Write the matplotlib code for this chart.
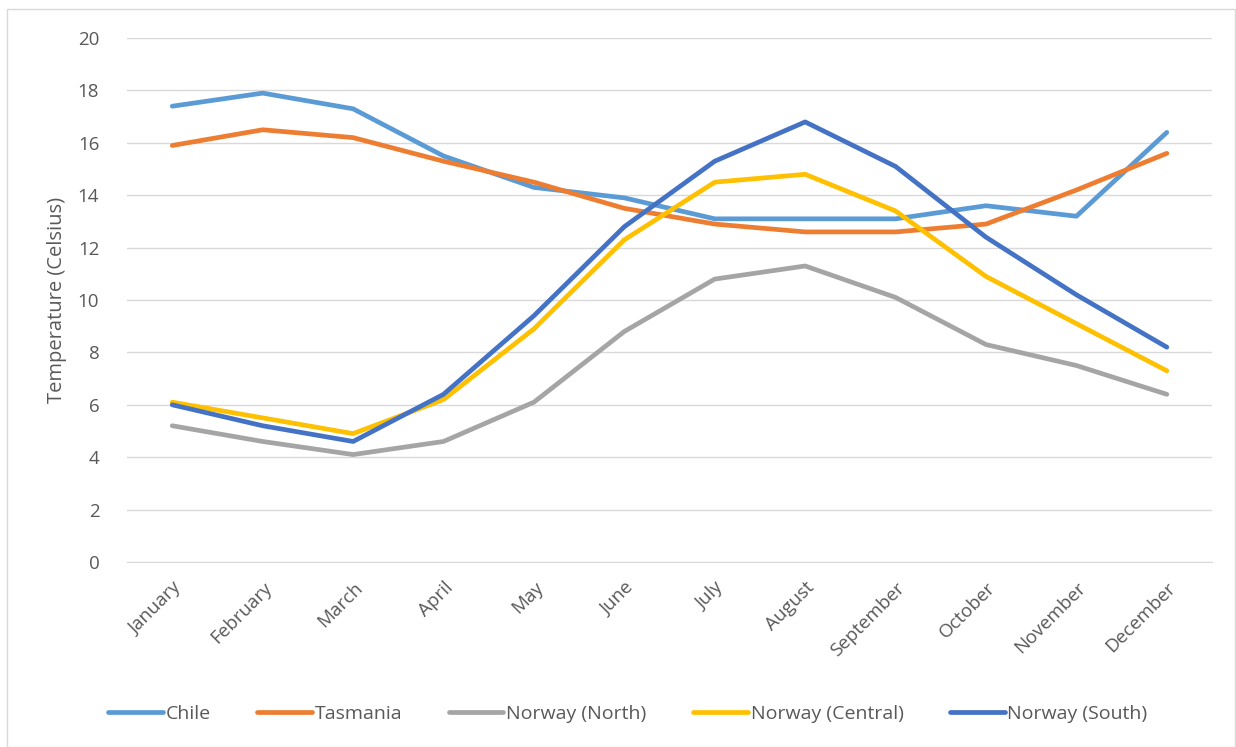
import matplotlib.pyplot as plt
from matplotlib.patches import Rectangle

months = ["January", "February", "March", "April", "May", "June",
          "July", "August", "September", "October", "November", "December"]

chile = [17.4, 17.9, 17.3, 15.5, 14.3, 13.9, 13.1, 13.1, 13.1, 13.6, 13.2, 16.4]
tasmania = [15.9, 16.5, 16.2, 15.3, 14.5, 13.5, 12.9, 12.6, 12.6, 12.9, 14.2, 15.6]
norway_north = [5.2, 4.6, 4.1, 4.6, 6.1, 8.8, 10.8, 11.3, 10.1, 8.3, 7.5, 6.4]
norway_central = [6.1, 5.5, 4.9, 6.2, 8.9, 12.3, 14.5, 14.8, 13.4, 10.9, 9.1, 7.3]
norway_south = [6.0, 5.2, 4.6, 6.4, 9.4, 12.8, 15.3, 16.8, 15.1, 12.4, 10.2, 8.2]

series = [
    ("Chile", chile, "#5B9BD5"),
    ("Tasmania", tasmania, "#ED7D31"),
    ("Norway (North)", norway_north, "#A5A5A5"),
    ("Norway (Central)", norway_central, "#FFC000"),
    ("Norway (South)", norway_south, "#4472C4"),
]

plt.rcParams['font.family'] = ['Open Sans', 'DejaVu Sans']
texto = '#595959'

fig = plt.figure(figsize=(12.36, 7.47), dpi=100)
fig.patches.append(Rectangle((0.006, 0.0), 0.993, 0.988, transform=fig.transFigure,
                             fill=False, edgecolor='#D9D9D9', linewidth=1))
ax = fig.add_axes([0.1028, 0.2477, 0.8778, 0.7013])

x = list(range(len(months)))
for nombre, valores, color in series:
    ax.plot(x, valores, color=color, linewidth=3.4, label=nombre,
            solid_capstyle='round', solid_joinstyle='round')

ax.set_xlim(-0.5, len(months) - 0.5)
ax.set_ylim(0, 20)
ax.set_yticks(range(0, 21, 2))
ax.set_xticks(x)
ax.set_xticklabels(months, rotation=45, ha='right', rotation_mode='anchor')
ax.tick_params(axis='both', length=0, labelsize=13.5, colors=texto)
ax.tick_params(axis='x', pad=12)
ax.tick_params(axis='y', pad=20)
ax.grid(axis='y', color='#D9D9D9', linewidth=1)
ax.set_axisbelow(True)
for lado in ['top', 'right', 'left']:
    ax.spines[lado].set_visible(False)
ax.spines['bottom'].set_color('#D9D9D9')
ax.set_ylabel('Temperature (Celsius)', fontsize=14.5, color=texto, labelpad=8)

fig.legend(loc='center', bbox_to_anchor=(0.508, 0.044), ncol=5, frameon=False,
           fontsize=14, labelcolor=texto, handlelength=2.8, handletextpad=0.15,
           columnspacing=2.4)

plt.savefig('out.png', dpi=100)
